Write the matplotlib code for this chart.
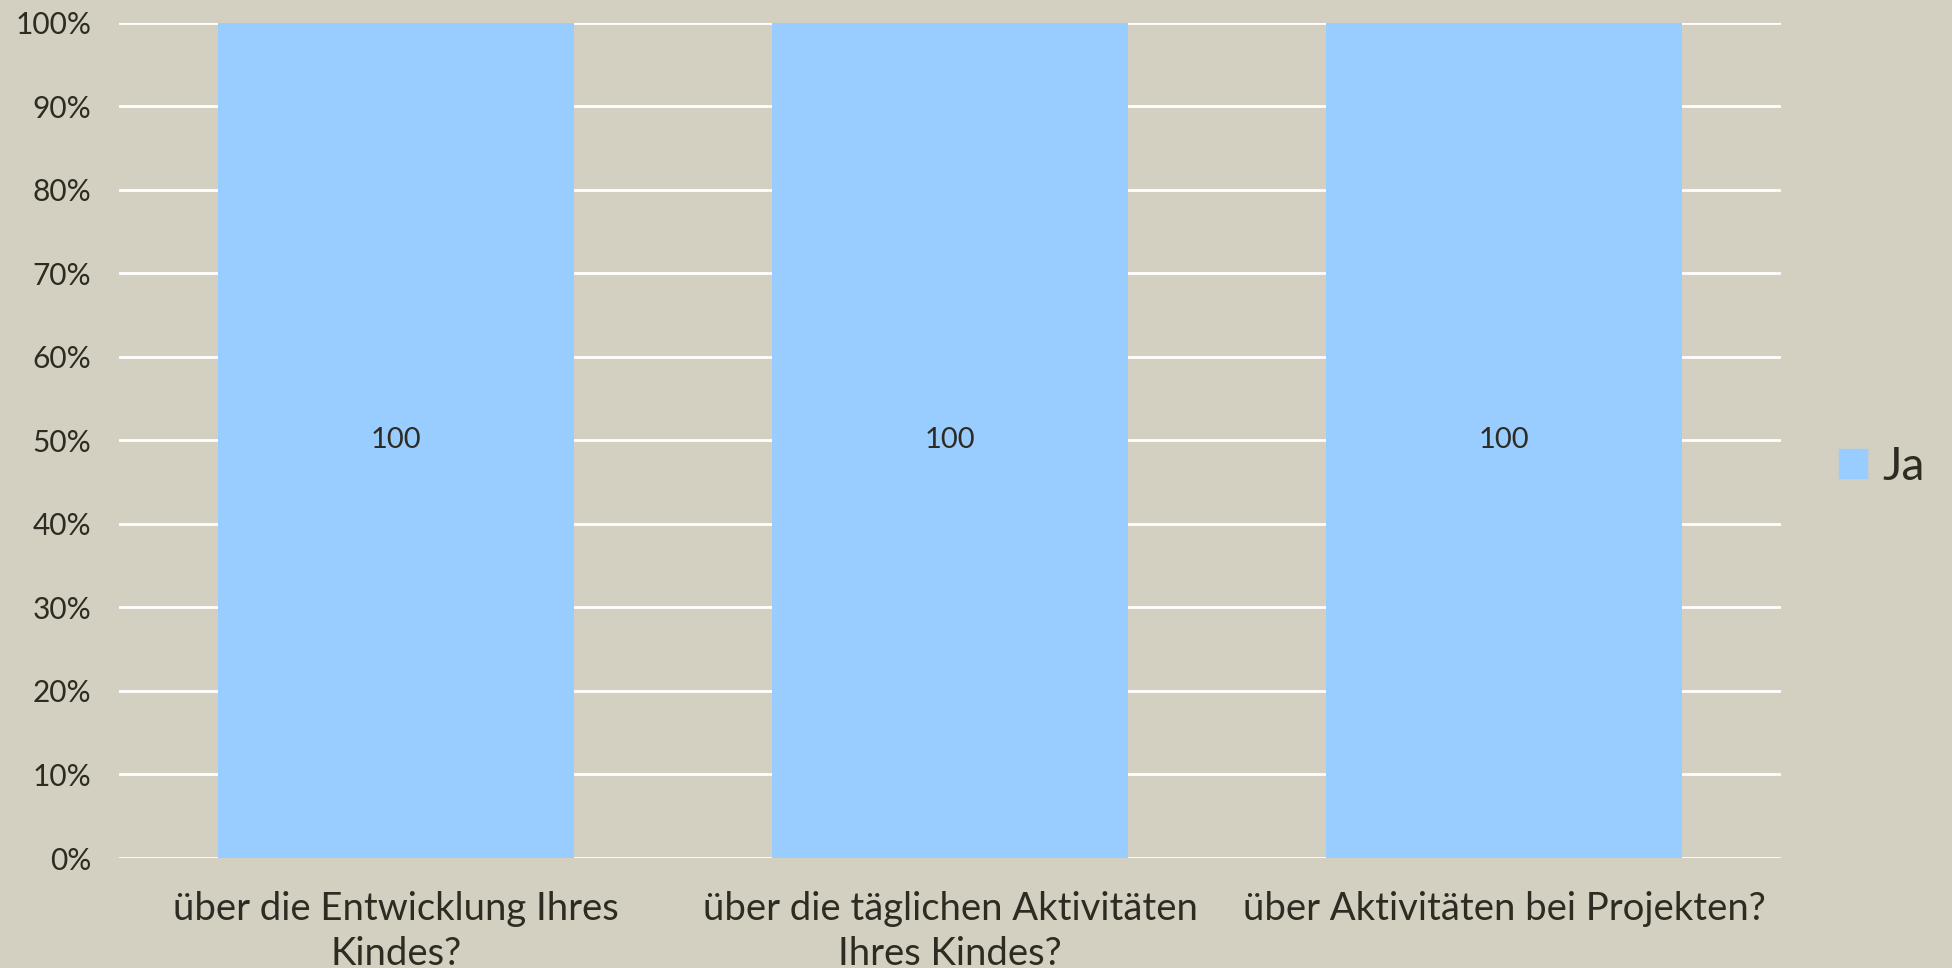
import matplotlib.pyplot as plt
import numpy as np
from matplotlib.ticker import FuncFormatter, MultipleLocator
from matplotlib.patches import Patch

categories = ["über die Entwicklung Ihres\nKindes?",
              "über die täglichen Aktivitäten\nIhres Kindes?",
              "über Aktivitäten bei Projekten?"]
ja_values = [100, 100, 100]
series_name = "Ja"

bg = "#D3CFC1"
bar_colour = "#99CCFF"
text_colour = "#2E2B22"

plt.rcParams['font.family'] = ['Lato', 'DejaVu Sans']

fig = plt.figure(figsize=(19.52, 9.68), dpi=100, facecolor=bg)
ax = fig.add_axes([119 / 1952, 1 - 858 / 968, (1781 - 119) / 1952, (858 - 22.5) / 968])
ax.set_facecolor(bg)

x = np.arange(len(categories))
bars = ax.bar(x, ja_values, width=0.643, color=bar_colour, zorder=2)
ax.bar_label(bars, labels=[str(v) for v in ja_values], label_type='center',
             fontsize=21, color=text_colour)

ax.set_xlim(-0.5, len(categories) - 0.5)
ax.set_ylim(0, 100)
ax.yaxis.set_major_locator(MultipleLocator(10))
ax.yaxis.set_major_formatter(FuncFormatter(lambda v, p: f"{v:.0f}%"))
ax.grid(axis='y', color='white', linewidth=2, zorder=1)
ax.set_axisbelow(True)

ax.set_xticks(x)
ax.set_xticklabels(categories, fontsize=27.5, color=text_colour, linespacing=1.3)
ax.tick_params(axis='x', length=0, pad=24)
ax.tick_params(axis='y', length=0, pad=20, labelsize=21.5, labelcolor=text_colour)

for s in ax.spines.values():
    s.set_visible(False)

fig.legend(handles=[Patch(color=bar_colour, label=series_name)],
           loc='center left', bbox_to_anchor=(1839 / 1952, 1 - 467 / 968),
           frameon=False, fontsize=33, labelcolor=text_colour,
           handlelength=0.6, handleheight=0.6, handletextpad=0.35,
           borderpad=0, borderaxespad=0)

fig.savefig("out.png", dpi=100, facecolor=bg)
